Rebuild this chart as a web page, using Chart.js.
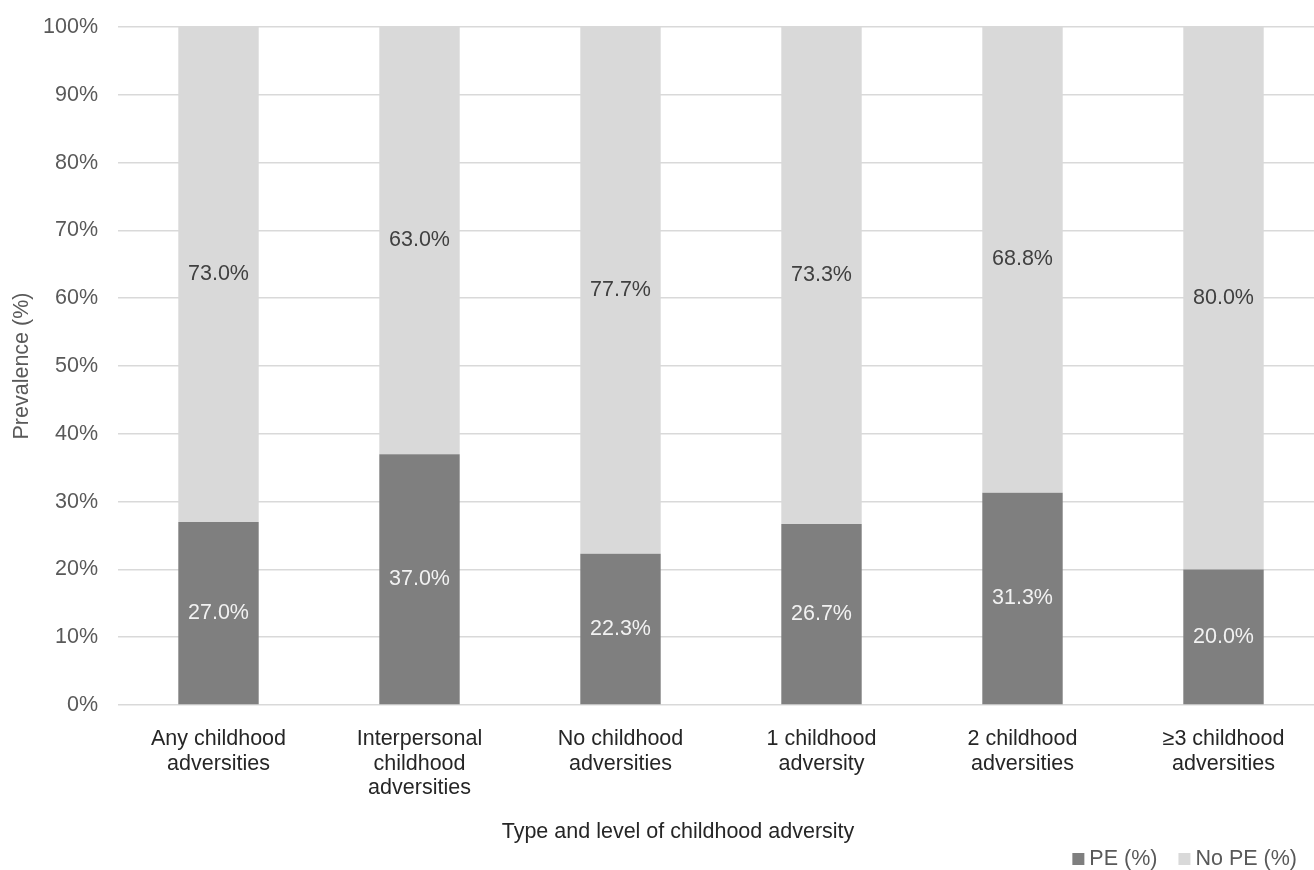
<!DOCTYPE html>
<html>
<head>
<meta charset="utf-8">
<script src="https://cdn.jsdelivr.net/npm/chart.js@4.4.1/dist/chart.umd.min.js"></script>
<style>
  html, body { margin: 0; padding: 0; background: #fff; overflow: hidden; }
  #wrap { width: 1324px; height: 870px; }
</style>
</head>
<body>
<div id="wrap"><canvas id="chart" width="1324" height="870"></canvas></div>
<script>
const categories = [
  ['Any childhood', 'adversities'],
  ['Interpersonal', 'childhood', 'adversities'],
  ['No childhood', 'adversities'],
  ['1 childhood', 'adversity'],
  ['2 childhood', 'adversities'],
  ['\u22653 childhood', 'adversities']
]
const pe = [27.0, 37.0, 22.3, 26.7, 31.3, 20.0]
const noPe = [73.0, 63.0, 77.7, 73.3, 68.8, 80.0]
const seriesNames = ['PE (%)', 'No PE (%)']
const yTicks = [0, 10, 20, 30, 40, 50, 60, 70, 80, 90, 100]

const FONT = '"Liberation Sans", Arial, sans-serif'
const dark = '#7f7f7f'
const light = '#d9d9d9'

// value labels in the middle of each segment
const segmentLabels = {
  id: 'segmentLabels',
  afterDatasetsDraw(chart) {
    const ctx = chart.ctx
    ctx.save()
    ctx.font = '21.5px ' + FONT
    ctx.textAlign = 'center'
    ctx.textBaseline = 'middle'
    chart.data.datasets.forEach((ds, i) => {
      const meta = chart.getDatasetMeta(i)
      meta.data.forEach((bar, j) => {
        const { x, y, base } = bar.getProps(['x', 'y', 'base'], true)
        ctx.fillStyle = ds.labelColor
        ctx.fillText(ds.data[j].toFixed(1) + '%', x, (y + base) / 2)
      })
    })
    ctx.restore()
  }
}

// axis title under the tick labels and a small legend at bottom right
const bottomText = {
  id: 'bottomText',
  afterDraw(chart) {
    const ctx = chart.ctx
    ctx.save()
    ctx.font = '21.5px ' + FONT
    ctx.textBaseline = 'middle'
    ctx.textAlign = 'center'
    ctx.fillStyle = '#262626'
    ctx.fillText('Type and level of childhood adversity', 678, 832)

    ctx.textAlign = 'left'
    const items = chart.data.datasets.map(ds => ({ label: ds.label, color: ds.backgroundColor }))
    let right = 1297
    for (let k = items.length - 1; k >= 0; k--) {
      const w = ctx.measureText(items[k].label).width
      const tx = right - w
      ctx.fillStyle = '#595959'
      ctx.fillText(items[k].label, tx, 859)
      ctx.fillStyle = items[k].color
      ctx.fillRect(tx - 17, 853, 12, 12)
      right = tx - 17 - 21
    }
    ctx.restore()
  }
}

new Chart(document.getElementById('chart'), {
  type: 'bar',
  data: {
    labels: categories,
    datasets: [
      { label: seriesNames[0], data: pe, backgroundColor: dark, labelColor: '#f2f2f2' },
      { label: seriesNames[1], data: noPe, backgroundColor: light, labelColor: '#404040' }
    ]
  },
  options: {
    responsive: false,
    animation: false,
    layout: { padding: { top: 27, right: 0, bottom: 70, left: 0 } },
    datasets: { bar: { categoryPercentage: 0.8, barPercentage: 0.5 } },
    plugins: { legend: { display: false }, tooltip: { enabled: false } },
    scales: {
      x: {
        stacked: true,
        grid: { display: false },
        border: { display: false },
        ticks: {
          color: '#262626',
          padding: 14,
          font: { family: FONT, size: 21.5, lineHeight: 1.14 },
          maxRotation: 0, autoSkip: false
        },
        afterFit(scale) { scale.height = 95 }
      },
      y: {
        stacked: true,
        min: 0,
        max: 100,
        afterBuildTicks(scale) { scale.ticks = yTicks.map(v => ({ value: v })) },
        grid: { color: '#d9d9d9', lineWidth: 1.5, drawTicks: false },
        border: { display: false },
        ticks: {
          color: '#595959',
          padding: 20,
          font: { family: FONT, size: 21.5 },
          callback: v => v + '%'
        },
        title: {
          display: true,
          text: 'Prevalence (%)',
          color: '#595959',
          font: { family: FONT, size: 21.5, lineHeight: 1.2 },
          padding: { top: 9, bottom: 0 }
        },
        afterFit(scale) {
          scale.width = 118
          scale.paddingTop = 0
          scale.paddingBottom = 0
        }
      }
    }
  },
  plugins: [segmentLabels, bottomText]
})
</script>
</body>
</html>
